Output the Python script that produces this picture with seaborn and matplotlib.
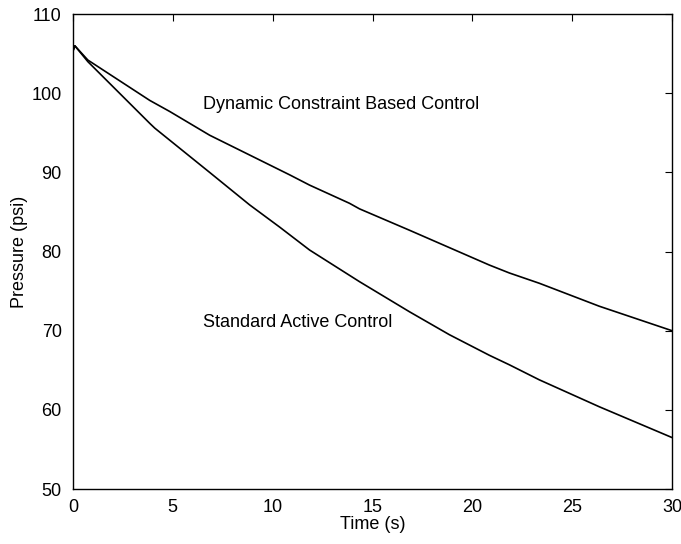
import matplotlib
matplotlib.use("Agg")
import matplotlib.pyplot as plt
import seaborn as sns
import pandas as pd

dyn_time = [0.0, 0.1, 0.75, 3.85, 4.85, 6.85, 8.85, 10.85, 11.85, 13.85, 14.35, 16.85,
            18.85, 20.85, 21.85, 23.35, 26.35, 30.0]
dynamic_psi = [105.3, 106.0, 104.2, 99.1, 97.7, 94.7, 92.2, 89.7, 88.4, 86.1, 85.4, 82.7,
               80.5, 78.3, 77.3, 76.0, 73.1, 70.0]
std_time = [0.0, 0.1, 0.75, 3.85, 4.1, 6.85, 8.85, 10.35, 11.85, 13.85, 14.35, 16.85,
            18.85, 20.85, 21.85, 23.35, 26.35, 30.0]
standard_psi = [105.3, 106.0, 104.0, 96.2, 95.6, 90.0, 85.9, 83.1, 80.2, 77.0, 76.2, 72.4,
                69.5, 66.9, 65.7, 63.8, 60.4, 56.5]

x_ticks = [0, 5, 10, 15, 20, 25, 30]
y_ticks = [50, 60, 70, 80, 90, 100, 110]

sns.set_style("white")
plt.rcParams['font.family'] = ['Liberation Sans', 'DejaVu Sans']
plt.rcParams['text.color'] = 'black'

df = pd.DataFrame({"t": dyn_time + std_time,
                   "p": dynamic_psi + standard_psi,
                   "s": ["Dynamic"] * len(dyn_time) + ["Standard"] * len(std_time)})

fig = plt.figure(figsize=(6.81, 5.44), dpi=100)
ax = fig.add_axes([0.107, 0.101, 0.880, 0.873])
sns.lineplot(data=df, x="t", y="p", units="s", estimator=None, color="black",
             linewidth=1.2, ax=ax, legend=False)

ax.set_xlim(0, 30)
ax.set_ylim(50, 110)
ax.set_xticks(x_ticks)
ax.set_yticks(y_ticks)
ax.tick_params(direction="in", top=True, right=True, length=5, width=0.8,
               labelsize=13, colors="black")
ax.tick_params(axis="y", pad=8)
ax.tick_params(axis="x", pad=7)
for sp in ax.spines.values():
    sp.set_visible(True)
    sp.set_color("black")
    sp.set_linewidth(1.0)
ax.set_xlabel("Time (s)", fontsize=13, labelpad=0, color="black")
ax.set_ylabel("Pressure (psi)", fontsize=13, labelpad=0, color="black")
ax.yaxis.set_label_coords(-0.075, 0.5)

ax.text(6.5, 98.6, "Dynamic Constraint Based Control", fontsize=13, va="center",
        ha="left", color="black")
ax.text(6.5, 71.0, "Standard Active Control", fontsize=13, va="center",
        ha="left", color="black")

fig.savefig("out.png", dpi=100)
